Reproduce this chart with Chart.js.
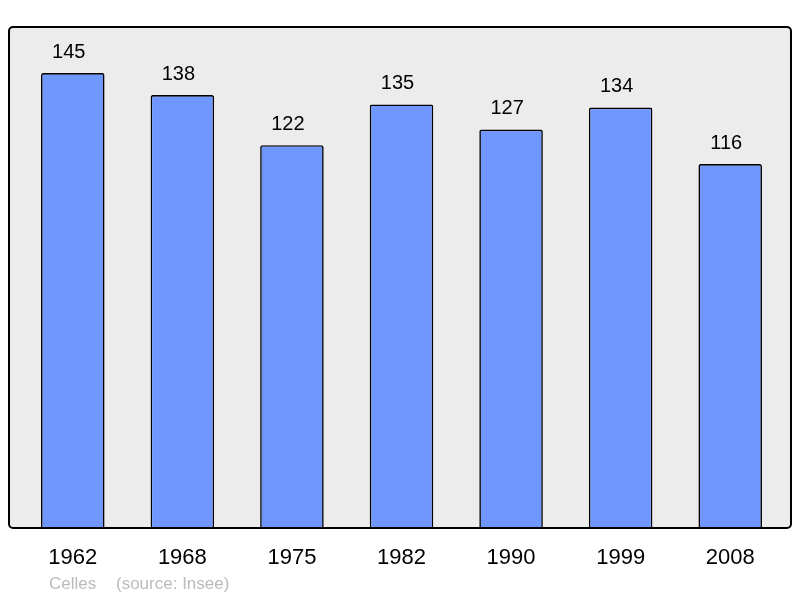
<!DOCTYPE html>
<html>
<head>
<meta charset="utf-8">
<script src="https://cdn.jsdelivr.net/npm/chart.js@4/dist/chart.umd.min.js"></script>
<style>
html,body{margin:0;padding:0;background:#fff;}
canvas{display:block;}
</style>
</head>
<body>
<canvas id="c" width="800" height="598"></canvas>
<script>
const categories = ["1962","1968","1975","1982","1990","1999","2008"];
const population = [145,138,122,135,127,134,116];
const commune = "Celles";
const sourceText = "(source: Insee)";

const FONT = "'Liberation Sans', Arial, sans-serif";

const boxPlugin = {
  id: 'box',
  beforeDraw(chart) {
    const ctx = chart.ctx;
    ctx.save();
    ctx.beginPath();
    ctx.roundRect(9, 27, 782, 501, 4);
    ctx.fillStyle = '#ececec';
    ctx.fill();
    ctx.restore();
  },
  afterDatasetsDraw(chart) {
    const ctx = chart.ctx;
    ctx.save();
    ctx.beginPath();
    ctx.roundRect(9, 27, 782, 501, 4);
    ctx.lineWidth = 2;
    ctx.strokeStyle = '#000';
    ctx.stroke();
    const meta = chart.getDatasetMeta(0);
    ctx.font = "20px " + FONT;
    ctx.fillStyle = '#000';
    ctx.textAlign = 'center';
    ctx.textBaseline = 'middle';
    meta.data.forEach((bar, i) => {
      ctx.fillText(String(population[i]), bar.x - 4, bar.y - 21);
    });
    ctx.font = "17px " + FONT;
    ctx.fillStyle = '#bbbbbb';
    ctx.textAlign = 'left';
    ctx.fillText(commune, 49, 584);
    ctx.fillText(sourceText, 116, 584);
    ctx.restore();
  }
};

new Chart(document.getElementById('c'), {
  type: 'bar',
  data: {
    labels: categories,
    datasets: [{
      data: population,
      backgroundColor: '#7096ff',
      borderColor: '#000',
      borderWidth: 1.6,
      borderRadius: 2,
      borderSkipped: 'bottom',
      barPercentage: 0.58,
      categoryPercentage: 1
    }]
  },
  options: {
    responsive: false,
    animation: false,
    devicePixelRatio: 1,
    layout: { padding: { left: 18, right: 15, top: 26, bottom: 0 } },
    plugins: { legend: { display: false }, tooltip: { enabled: false }, title: { display: false } },
    scales: {
      x: {
        grid: { display: false, drawTicks: false },
        border: { display: false },
        ticks: { color: '#000', font: { size: 22, family: FONT }, padding: 17, maxRotation: 0 },
        afterFit(scale) { scale.height = 70; }
      },
      y: {
        display: false,
        min: 0,
        max: 160
      }
    }
  },
  plugins: [boxPlugin]
});
</script>
</body>
</html>
